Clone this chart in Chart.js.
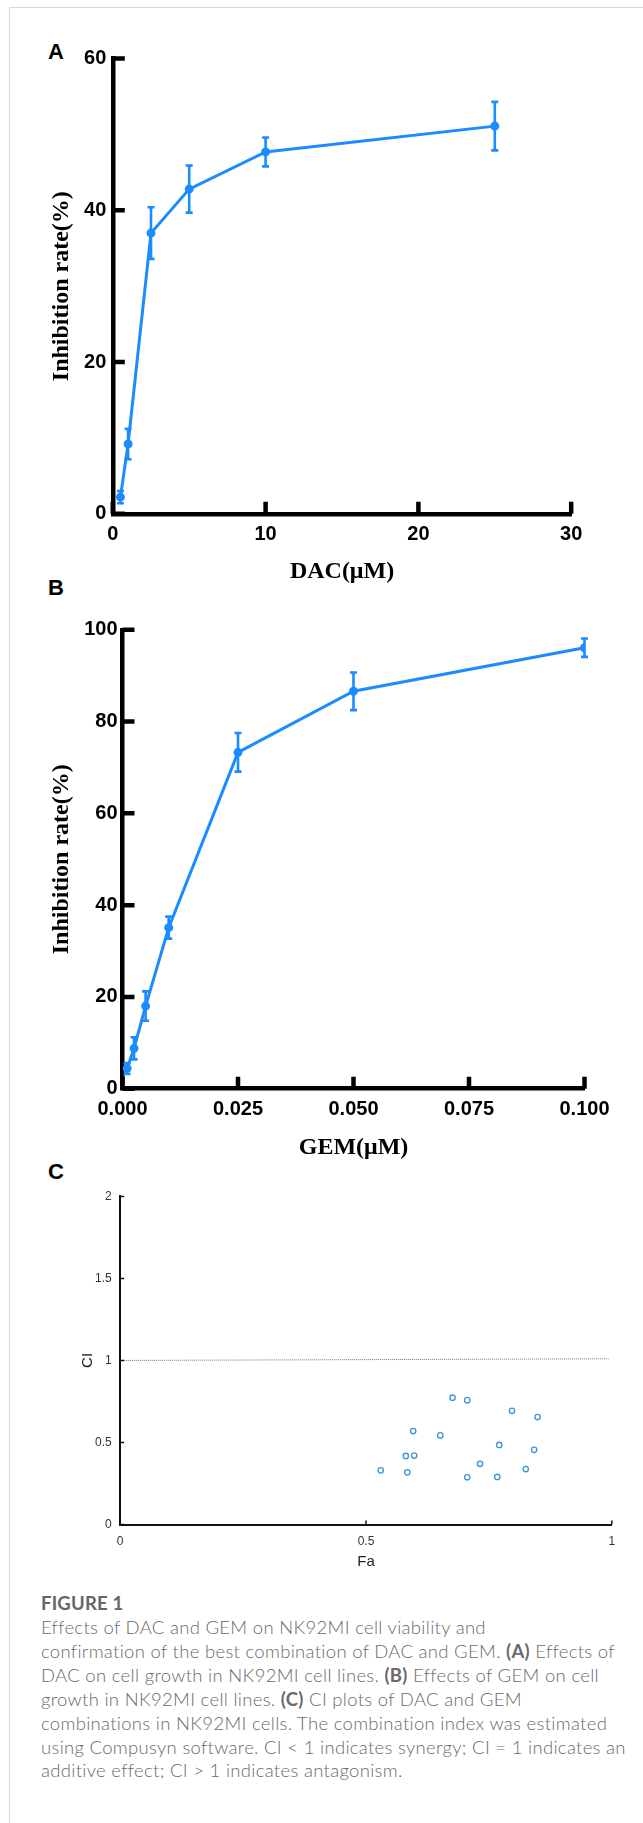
<!DOCTYPE html>
<html>
<head>
<meta charset="utf-8">
<script src="https://cdn.jsdelivr.net/npm/chart.js@4.4.1/dist/chart.umd.min.js"></script>
<style>
  html, body { margin: 0; padding: 0; background: #fff; width: 643px; height: 1823px; overflow: hidden; position: relative; }
  .frame { position: absolute; left: 9px; top: 7px; width: 700px; height: 1900px; border: 1px solid #d9d9d9; }
  canvas { position: absolute; left: 0; }
  .tag { position: absolute; font: bold 22px 'Liberation Sans', Arial, sans-serif; line-height: 22px; color: #000; }
  .caption { position: absolute; left: 41px; top: 1591px; font-family: Lato, 'Open Sans', sans-serif; color: #6a6a6a; }
  .caption .head { font-weight: 700; font-size: 18.5px; line-height: 25px; color: #666; letter-spacing: 0.2px; }
  .caption .line { font-weight: 300; font-size: 18.5px; line-height: 23.9px; white-space: nowrap; letter-spacing: 0.3px; }
  .caption b { font-weight: 700; }
</style>
</head>
<body>
<div class="frame"></div>
<div class="tag" style="left:48px;top:41px">A</div>
<div class="tag" style="left:48px;top:577px">B</div>
<div class="tag" style="left:48px;top:1161px">C</div>

<canvas id="chartA" width="643" height="585" style="top:0"></canvas>
<canvas id="chartB" width="643" height="580" style="top:585px"></canvas>
<canvas id="chartC" width="643" height="425" style="top:1165px"></canvas>

<div class="caption">
  <div class="head">FIGURE 1</div>
  <div class="line">Effects of DAC and GEM on NK92MI cell viability and</div>
  <div class="line">confirmation of the best combination of DAC and GEM. <b>(A)</b> Effects of</div>
  <div class="line">DAC on cell growth in NK92MI cell lines. <b>(B)</b> Effects of GEM on cell</div>
  <div class="line">growth in NK92MI cell lines. <b>(C)</b> CI plots of DAC and GEM</div>
  <div class="line">combinations in NK92MI cells. The combination index was estimated</div>
  <div class="line">using Compusyn software. CI &lt; 1 indicates synergy; CI = 1 indicates an</div>
  <div class="line">additive effect; CI &gt; 1 indicates antagonism.</div>
</div>

<script>
// panel A - DAC dose response
const dacDose  = [0.5, 1, 2.5, 5, 10, 25];
const dacInhib = [2.2, 9.2, 37.0, 42.8, 47.7, 51.1];
const dacErr   = [0.8, 2.0, 3.4, 3.1, 1.9, 3.2];

// panel B - GEM dose response
const gemDose  = [0.001, 0.0025, 0.005, 0.01, 0.025, 0.05, 0.1];
const gemInhib = [4.4, 8.8, 18.0, 35.1, 73.3, 86.6, 96.1];
const gemErr   = [1.2, 2.4, 3.2, 2.4, 4.2, 4.1, 2.0];

// panel C - combination index vs fraction affected
const ciFa    = [0.530, 0.581, 0.598, 0.584, 0.596, 0.651, 0.676, 0.706, 0.706, 0.732, 0.771, 0.767, 0.797, 0.825, 0.842, 0.849];
const ciValue = [0.330, 0.418, 0.420, 0.318, 0.570, 0.543, 0.773, 0.758, 0.288, 0.370, 0.485, 0.290, 0.693, 0.338, 0.455, 0.655];
const ciRefFa    = [0, 0.994];
const ciRefValue = [1, 1.01];

const BLUE = '#1a8cff';
const CI_BLUE = '#3a96d6';
const SANS = "'Liberation Sans', Arial, sans-serif";
const SERIF = "'Liberation Serif', 'Times New Roman', serif";

// ticks pointing into the plot, like the original figure
const inwardTicks = {
  id: 'inwardTicks',
  afterDraw(chart, args, opts) {
    const {ctx, chartArea, scales: {x, y}} = chart;
    ctx.save();
    ctx.strokeStyle = opts.color;
    ctx.lineWidth = opts.width;
    ctx.beginPath();
    x.ticks.forEach(t => {
      const px = x.getPixelForValue(t.value);
      ctx.moveTo(px, chartArea.bottom);
      ctx.lineTo(px, chartArea.bottom - opts.length);
    });
    y.ticks.forEach(t => {
      const py = y.getPixelForValue(t.value);
      ctx.moveTo(chartArea.left, py);
      ctx.lineTo(chartArea.left + opts.length, py);
    });
    ctx.stroke();
    ctx.restore();
  }
};

const errorBars = {
  id: 'errorBars',
  afterDatasetsDraw(chart, args, opts) {
    const {ctx, scales: {x, y}} = chart;
    chart.data.datasets.forEach(ds => {
      if (!ds.errorBars) return;
      ctx.save();
      ctx.strokeStyle = ds.borderColor;
      ctx.lineWidth = opts.width;
      ds.data.forEach((p, i) => {
        const e = ds.errorBars[i];
        const px = x.getPixelForValue(p.x);
        const top = y.getPixelForValue(p.y + e);
        const bot = y.getPixelForValue(p.y - e);
        ctx.beginPath();
        ctx.moveTo(px, top); ctx.lineTo(px, bot);
        ctx.moveTo(px - opts.cap, top); ctx.lineTo(px + opts.cap, top);
        ctx.moveTo(px - opts.cap, bot); ctx.lineTo(px + opts.cap, bot);
        ctx.stroke();
      });
      ctx.restore();
    });
  }
};

function doseChart(canvas, doses, values, errs, cfg) {
  return new Chart(canvas, {
    type: 'scatter',
    data: {
      datasets: [{
        data: doses.map((d, i) => ({x: d, y: values[i]})),
        errorBars: errs,
        showLine: true,
        tension: 0,
        borderColor: BLUE,
        backgroundColor: BLUE,
        borderWidth: 3,
        pointRadius: 3,
        pointHoverRadius: 3
      }]
    },
    options: {
      responsive: false,
      animation: false,
      events: [],
      layout: {padding: {top: cfg.top, right: cfg.right, left: 0, bottom: 0}},
      plugins: {
        legend: {display: false},
        tooltip: {enabled: false},
        inwardTicks: {length: 12, width: 4.5, color: '#000'},
        errorBars: {width: 2.6, cap: 3.5}
      },
      scales: {
        x: {
          type: 'linear', min: cfg.xMin, max: cfg.xMax,
          ticks: {
            stepSize: cfg.xStep, padding: 9, color: '#000',
            font: {family: SANS, size: 20, weight: 'bold'},
            callback: cfg.xFmt
          },
          grid: {display: false, drawTicks: false},
          border: {color: '#000', width: 4.5},
          title: {
            display: true, text: cfg.xTitle, color: '#000',
            font: {family: SERIF, size: 24, weight: 'bold', lineHeight: 1},
            padding: {top: 0, bottom: cfg.xTitlePad}
          },
          afterFit: s => { s.height = cfg.xHeight; }
        },
        y: {
          min: 0, max: cfg.yMax,
          ticks: {
            stepSize: cfg.yStep, padding: cfg.yPad, color: '#000',
            font: {family: SANS, size: 20, weight: 'bold'}
          },
          grid: {display: false, drawTicks: false},
          border: {color: '#000', width: 4.5},
          title: {
            display: true, text: 'Inhibition rate(%)', color: '#000',
            font: {family: SERIF, size: 24, weight: 'bold', lineHeight: 1},
            padding: {top: 49.5, bottom: 0}
          },
          afterFit: s => { s.width = cfg.yWidth; }
        }
      }
    },
    plugins: [inwardTicks, errorBars]
  });
}

doseChart(document.getElementById('chartA'), dacDose, dacInhib, dacErr, {
  top: 58.6, right: 71.8, xMin: 0, xMax: 30, xStep: 10, xFmt: v => v,
  xTitle: 'DAC(\u03bcM)', xTitlePad: 1, xHeight: 71.2,
  yMax: 60, yStep: 20, yPad: 6.5, yWidth: 112.8
});

doseChart(document.getElementById('chartB'), gemDose, gemInhib, gemErr, {
  top: 44.8, right: 58.5, xMin: 0, xMax: 0.1, xStep: 0.025, xFmt: v => v.toFixed(3),
  xTitle: 'GEM(\u03bcM)', xTitlePad: 5.3, xHeight: 76.3,
  yMax: 100, yStep: 20, yPad: 5, yWidth: 122.5
});

new Chart(document.getElementById('chartC'), {
  type: 'scatter',
  data: {
    datasets: [{
      data: ciFa.map((f, i) => ({x: f, y: ciValue[i]})),
      pointRadius: 2.7,
      pointHoverRadius: 2.7,
      borderWidth: 1.3,
      borderColor: CI_BLUE,
      backgroundColor: 'rgba(255,255,255,0)'
    }, {
      data: ciRefFa.map((f, i) => ({x: f, y: ciRefValue[i]})),
      showLine: true,
      borderColor: '#777',
      borderWidth: 1,
      borderDash: [1, 1],
      pointRadius: 0
    }]
  },
  options: {
    responsive: false,
    animation: false,
    events: [],
    layout: {padding: {top: 31.4, right: 31.2, left: 0, bottom: 0}},
    plugins: {
      legend: {display: false},
      tooltip: {enabled: false},
      inwardTicks: {length: 4, width: 1.5, color: '#111'}
    },
    scales: {
      x: {
        type: 'linear', min: 0, max: 1,
        ticks: {stepSize: 0.5, padding: 10, color: '#333', font: {family: SANS, size: 12}, callback: v => String(v)},
        grid: {display: false, drawTicks: false},
        border: {color: '#111', width: 2},
        title: {
          display: true, text: 'Fa', color: '#222',
          font: {family: SANS, size: 15, lineHeight: 1},
          padding: {top: 0, bottom: 21}
        },
        afterFit: s => { s.height = 65.5; }
      },
      y: {
        min: 0, max: 2,
        ticks: {stepSize: 0.5, padding: 8.5, color: '#333', font: {family: SANS, size: 12}, callback: v => String(v)},
        grid: {display: false, drawTicks: false},
        border: {color: '#111', width: 2},
        title: {
          display: true, text: 'CI', color: '#222',
          font: {family: SANS, size: 15, lineHeight: 1},
          padding: {top: 80.7, bottom: 0}
        },
        afterFit: s => { s.width = 120.2; }
      }
    }
  },
  plugins: [inwardTicks]
});
</script>
</body>
</html>
